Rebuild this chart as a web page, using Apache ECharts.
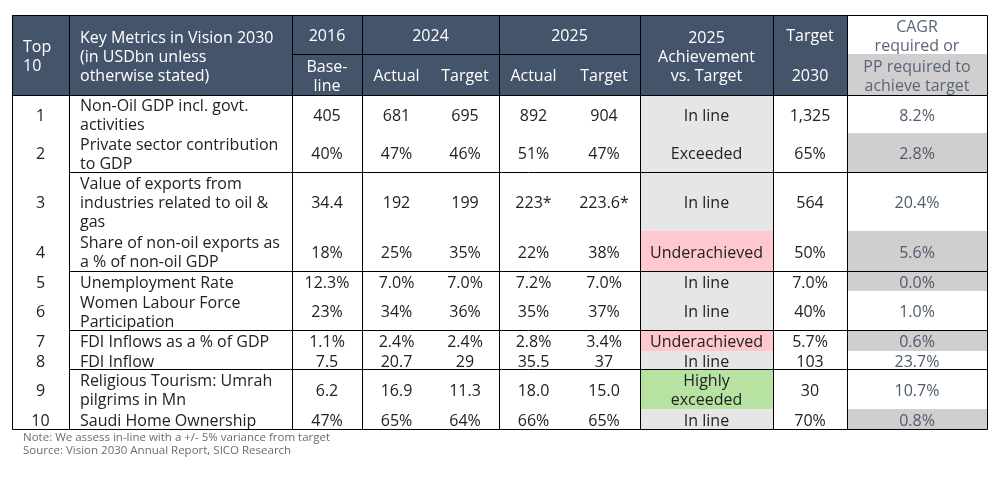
<!DOCTYPE html>
<html>
<head>
<meta charset="utf-8">
<script src="https://cdn.jsdelivr.net/npm/echarts@6/dist/echarts.min.js"></script>
<style>
  html, body { margin: 0; padding: 0; background: #fff; }
  #main { width: 999px; height: 479px; }
</style>
</head>
<body>
<div id="main"></div>
<script>
// table content
var ranks = ['1', '2', '3', '4', '5', '6', '7', '8', '9', '10'];
var metrics = [
    'Non-Oil GDP incl. govt.\nactivities',
    'Private sector contribution\nto GDP',
    'Value of exports from\nindustries related to oil &\ngas',
    'Share of non-oil exports as\na % of non-oil GDP',
    'Unemployment Rate',
    'Women Labour Force\nParticipation',
    'FDI Inflows as a % of GDP',
    'FDI Inflow',
    'Religious Tourism: Umrah\npilgrims in Mn',
    'Saudi Home Ownership'
];
var baseline2016 = ['405', '40%', '34.4', '18%', '12.3%', '23%', '1.1%', '7.5', '6.2', '47%'];
var actual2024 = ['681', '47%', '192', '25%', '7.0%', '34%', '2.4%', '20.7', '16.9', '65%'];
var target2024 = ['695', '46%', '199', '35%', '7.0%', '36%', '2.4%', '29', '11.3', '64%'];
var actual2025 = ['892', '51%', '223*', '22%', '7.2%', '35%', '2.8%', '35.5', '18.0', '66%'];
var target2025 = ['904', '47%', '223.6*', '38%', '7.0%', '37%', '3.4%', '37', '15.0', '65%'];
var achievement = ['In line', 'Exceeded', 'In line', 'Underachieved', 'In line', 'In line',
    'Underachieved', 'In line', 'Highly\nexceeded', 'In line'];
var target2030 = ['1,325', '65%', '564', '50%', '7.0%', '40%', '5.7%', '103', '30', '70%'];
var cagrRequired = ['8.2%', '2.8%', '20.4%', '5.6%', '0.0%', '1.0%', '0.6%', '23.7%', '10.7%', '0.8%'];
var notes = [
    'Note: We assess in-line with a +/- 5% variance from target',
    'Source: Vision 2030 Annual Report, SICO Research'
];

// layout (table units, 1 unit = 1px)
var colEdges = [0, 57, 280, 350, 419, 487, 556, 628, 761, 835, 975];
var rowEdges = [0, 39, 80, 118, 157, 216, 256, 276, 315, 336, 354, 394, 414];
var shadedCagrRows = [1, 3, 4, 6, 9];
var groupRuleRows = [1, 3, 5, 7]; // rule drawn under these body rows

var FONT = '"Open Sans", "Noto Sans", sans-serif';
var HEAD = '#44546A';
var statusFill = {
    'In line': '#E7E6E6',
    'Exceeded': '#E7E6E6',
    'Underachieved': '#FFC7CE',
    'Highly\nexceeded': '#B7E2A2'
};

var cells = [];
function cell(c0, c1, r0, r1, text, opt) {
    opt = opt || {};
    cells.push({
        value: [colEdges[c0], rowEdges[r0], colEdges[c1], rowEdges[r1]],
        text: text,
        fill: opt.fill || null,
        color: opt.color || '#222',
        align: opt.align || 'center'
    });
}

// header
var white = { fill: HEAD, color: '#fff' };
cell(0, 1, 0, 2, 'Top\n10', { fill: HEAD, color: '#fff', align: 'left' });
cell(1, 2, 0, 2, 'Key Metrics in Vision 2030\n(in USDbn unless\notherwise stated)', { fill: HEAD, color: '#fff', align: 'left' });
cell(2, 3, 0, 1, '2016', white);
cell(2, 3, 1, 2, 'Base-\nline', white);
cell(3, 5, 0, 1, '2024', white);
cell(3, 4, 1, 2, 'Actual', white);
cell(4, 5, 1, 2, 'Target', white);
cell(5, 7, 0, 1, '2025', white);
cell(5, 6, 1, 2, 'Actual', white);
cell(6, 7, 1, 2, 'Target', white);
cell(7, 8, 0, 2, '2025\nAchievement\nvs. Target', white);
cell(8, 9, 0, 1, 'Target', white);
cell(8, 9, 1, 2, '2030', white);
cell(9, 10, 0, 1, 'CAGR\nrequired or', { fill: '#fff', color: '#5A6678' });
cell(9, 10, 1, 2, 'PP required to\nachieve target', { fill: '#D0CECE', color: '#5A6678' });

// body
ranks.forEach(function (rk, i) {
    var r0 = i + 2, r1 = i + 3;
    cell(0, 1, r0, r1, rk);
    cell(1, 2, r0, r1, metrics[i], { align: 'left' });
    cell(2, 3, r0, r1, baseline2016[i]);
    cell(3, 4, r0, r1, actual2024[i]);
    cell(4, 5, r0, r1, target2024[i]);
    cell(5, 6, r0, r1, actual2025[i]);
    cell(6, 7, r0, r1, target2025[i]);
    cell(7, 8, r0, r1, achievement[i], { fill: statusFill[achievement[i]] });
    cell(8, 9, r0, r1, target2030[i]);
    cell(9, 10, r0, r1, cagrRequired[i], {
        fill: shadedCagrRows.indexOf(i) >= 0 ? '#D0CECE' : null,
        color: '#4F5B6E'
    });
});

// rules: [x0, y0, x1, y1]
var W = colEdges[colEdges.length - 1], H = rowEdges[rowEdges.length - 1];
var rules = [
    [0, 0, W, 0],
    [0, H, W, H],
    [0, rowEdges[2], W, rowEdges[2]],
    [colEdges[2], rowEdges[1], colEdges[7], rowEdges[1]]
];
groupRuleRows.forEach(function (i) {
    rules.push([colEdges[1], rowEdges[i + 3], W, rowEdges[i + 3]]);
});
[0, 1, 2, 3, 5, 7, 8, 9, 10].forEach(function (c) {
    rules.push([colEdges[c], 0, colEdges[c], H]);
});

var myChart = echarts.init(document.getElementById('main'));

var option = {
    backgroundColor: '#fff',
    animation: false,
    grid: { left: 12, top: 15, width: 975, height: 414 },
    xAxis: { type: 'value', min: 0, max: W, show: false },
    yAxis: { type: 'value', min: 0, max: H, inverse: true, show: false },
    graphic: notes.map(function (t, k) {
        return {
            type: 'text', left: 23, top: 432 + k * 13,
            style: { text: t, fill: '#6B6B6B', font: '11.5px ' + FONT }
        };
    }),
    series: [
        {
            type: 'custom',
            data: cells,
            renderItem: function (params, api) {
                var c = cells[params.dataIndex];
                var p0 = api.coord([api.value(0), api.value(1)]);
                var p1 = api.coord([api.value(2), api.value(3)]);
                var children = [];
                if (c.fill) {
                    children.push({
                        type: 'rect',
                        shape: { x: p0[0], y: p0[1], width: p1[0] - p0[0], height: p1[1] - p0[1] },
                        style: { fill: c.fill }
                    });
                }
                children.push({
                    type: 'text',
                    x: c.align === 'left' ? p0[0] + 11 : (p0[0] + p1[0]) / 2,
                    y: (p0[1] + p1[1]) / 2 + 2,
                    style: {
                        text: c.text,
                        fill: c.color,
                        fontSize: 16,
                        fontFamily: FONT,
                        lineHeight: 19,
                        align: c.align,
                        verticalAlign: 'middle'
                    }
                });
                return { type: 'group', children: children };
            }
        },
        {
            type: 'custom',
            data: rules,
            z: 5,
            renderItem: function (params, api) {
                var a = api.coord([api.value(0), api.value(1)]);
                var b = api.coord([api.value(2), api.value(3)]);
                var ax = Math.round(a[0]) + 0.5, ay = Math.round(a[1]) + 0.5;
                var bx = Math.round(b[0]) + 0.5, by = Math.round(b[1]) + 0.5;
                return {
                    type: 'line',
                    shape: { x1: ax, y1: ay, x2: bx, y2: by },
                    style: { stroke: '#000', lineWidth: 1 }
                };
            }
        }
    ]
};

myChart.setOption(option);
</script>
</body>
</html>
